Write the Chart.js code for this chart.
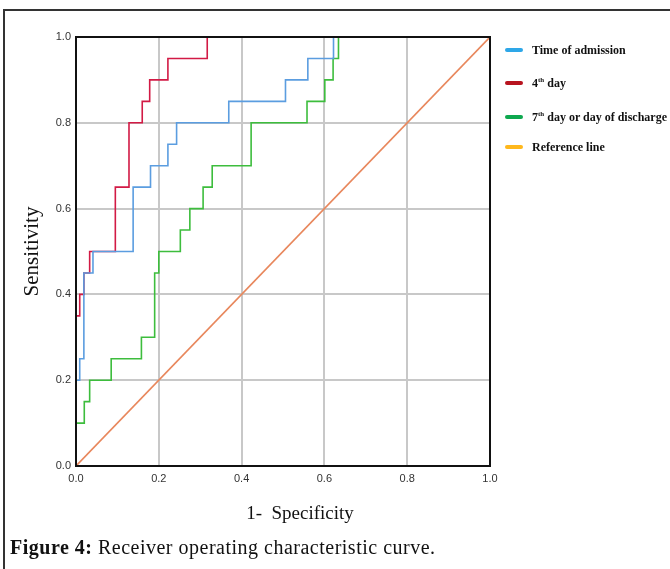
<!DOCTYPE html>
<html>
<head>
<meta charset="utf-8">
<script src="https://cdn.jsdelivr.net/npm/chart.js@4.4.1/dist/chart.umd.min.js"></script>
<style>
  html, body { margin: 0; padding: 0; background: #fff; }
  #fig { position: relative; width: 670px; height: 569px; overflow: hidden; background: #fff; }
  #frame { position: absolute; left: 3px; top: 9px; width: 700px; height: 600px; border-top: 2px solid #333; border-left: 2px solid #333; box-sizing: border-box; }
  #roc { position: absolute; left: 0; top: 0; }
  .legend { position: absolute; left: 505px; top: 0; font: bold 12px "Liberation Serif", serif; color: #111; }
  .legend .row { position: absolute; left: 0; height: 16px; white-space: nowrap; display: flex; align-items: center; }
  .legend .sw { display: inline-block; width: 18px; height: 4px; border-radius: 2px; margin-right: 9px; }
  .legend sup { font-size: 7px; line-height: 0; }
  #xtitle { position: absolute; top: 502px; left: 200px; width: 200px; text-align: center; font: 19px "Liberation Serif", serif; color: #111; white-space: pre; }
  #caption { position: absolute; left: 10px; top: 536px; font: 20px "Liberation Serif", serif; letter-spacing: 0.5px; white-space: nowrap; color: #111; }
</style>
</head>
<body>
<div id="fig">
  <div id="frame"></div>
  <canvas id="roc" width="670" height="569"></canvas>
  <div class="legend" id="legend"></div>
  <div id="xtitle">1-  Specificity</div>
  <div id="caption"><b>Figure 4:</b> Receiver operating characteristic curve.</div>
</div>
<script>
// ROC points (1 - specificity, sensitivity)
const admissionX = [0, 0, 0.009, 0.019, 0.041, 0.138, 0.18, 0.222, 0.243, 0.369, 0.506, 0.56, 0.622, 1];
const admissionY = [0, 0.2, 0.25, 0.45, 0.5, 0.65, 0.7, 0.75, 0.8, 0.85, 0.9, 0.95, 1, 1];

const day4X = [0, 0, 0.009, 0.019, 0.033, 0.095, 0.128, 0.16, 0.178, 0.222, 0.317, 1];
const day4Y = [0, 0.35, 0.4, 0.45, 0.5, 0.65, 0.8, 0.85, 0.9, 0.95, 1, 1];

const day7X = [0, 0, 0.02, 0.033, 0.085, 0.158, 0.19, 0.2, 0.252, 0.275, 0.307, 0.329, 0.423, 0.558, 0.601, 0.621, 0.634, 1];
const day7Y = [0, 0.1, 0.15, 0.2, 0.25, 0.3, 0.45, 0.5, 0.55, 0.6, 0.65, 0.7, 0.8, 0.85, 0.9, 0.95, 1, 1];

const refX = [0, 1];
const refY = [0, 1];

const axisTicks = [0, 0.2, 0.4, 0.6, 0.8, 1.0];

const seriesNames = ['Time of admission', '4<sup>th</sup> day', '7<sup>th</sup> day or day of discharge', 'Reference line'];
const lineColors = ['#5b9de0', '#d21a45', '#3dbd3d', '#e8875c'];
const legendColors = ['#2ea7e8', '#b8141f', '#0ea84f', '#ffb81c'];

const pts = (xs, ys) => xs.map((x, i) => ({ x: x, y: ys[i] }));

// legend (html so the ordinal superscripts stay real text)
const legendTops = [42, 75, 109, 139];
document.getElementById('legend').innerHTML = seriesNames.map((n, i) => `
  <div class="row" style="top:${legendTops[i]}px">
    <span class="sw" style="background:${legendColors[i]}"></span><span>${n}</span>
  </div>`).join('');

// redraw the black plot frame over the curves, like SPSS does
const frameOnTop = {
  id: 'frameOnTop',
  afterDatasetsDraw(chart) {
    const { ctx, chartArea: a } = chart;
    ctx.save();
    ctx.strokeStyle = '#111';
    ctx.lineWidth = 2;
    ctx.strokeRect(a.left, a.top, a.right - a.left, a.bottom - a.top);
    ctx.restore();
  }
};

const tickFont = { family: '"Liberation Sans", Arial, sans-serif', size: 11 };

new Chart(document.getElementById('roc'), {
  type: 'line',
  data: {
    datasets: [
      { label: 'Time of admission', data: pts(admissionX, admissionY), borderColor: lineColors[0], stepped: 'before' },
      { label: '4th day', data: pts(day4X, day4Y), borderColor: lineColors[1], stepped: 'before' },
      { label: '7th day or day of discharge', data: pts(day7X, day7Y), borderColor: lineColors[2], stepped: 'before' },
      { label: 'Reference line', data: pts(refX, refY), borderColor: lineColors[3] }
    ].map(d => Object.assign({ borderWidth: 1.6, pointRadius: 0, fill: false, tension: 0 }, d))
  },
  options: {
    responsive: false,
    devicePixelRatio: 1,
    animation: false,
    layout: { padding: { left: 0, top: 37, right: 180, bottom: 43 } },
    plugins: { legend: { display: false }, tooltip: { enabled: false } },
    scales: {
      x: {
        type: 'linear', min: 0, max: 1,
        afterBuildTicks: s => { s.ticks = axisTicks.map(v => ({ value: v })); },
        afterFit: s => { s.height = 60; },
        grid: { color: '#c8c8c8', lineWidth: 2, drawTicks: false },
        border: { color: '#111', width: 2 },
        ticks: { padding: 6, color: '#333', font: tickFont, callback: v => Number(v).toFixed(1) }
      },
      y: {
        type: 'linear', min: 0, max: 1,
        afterBuildTicks: s => { s.ticks = axisTicks.map(v => ({ value: v })); },
        afterFit: s => { s.width = 76; },
        grid: { color: '#c8c8c8', lineWidth: 2, drawTicks: false },
        border: { color: '#111', width: 2 },
        ticks: { padding: 5, color: '#333', font: tickFont, callback: v => Number(v).toFixed(1) },
        title: {
          display: true, text: 'Sensitivity', color: '#111',
          font: { family: '"Liberation Serif", serif', size: 21 },
          padding: { top: 20, bottom: 0 }
        }
      }
    }
  },
  plugins: [frameOnTop]
});
</script>
</body>
</html>
